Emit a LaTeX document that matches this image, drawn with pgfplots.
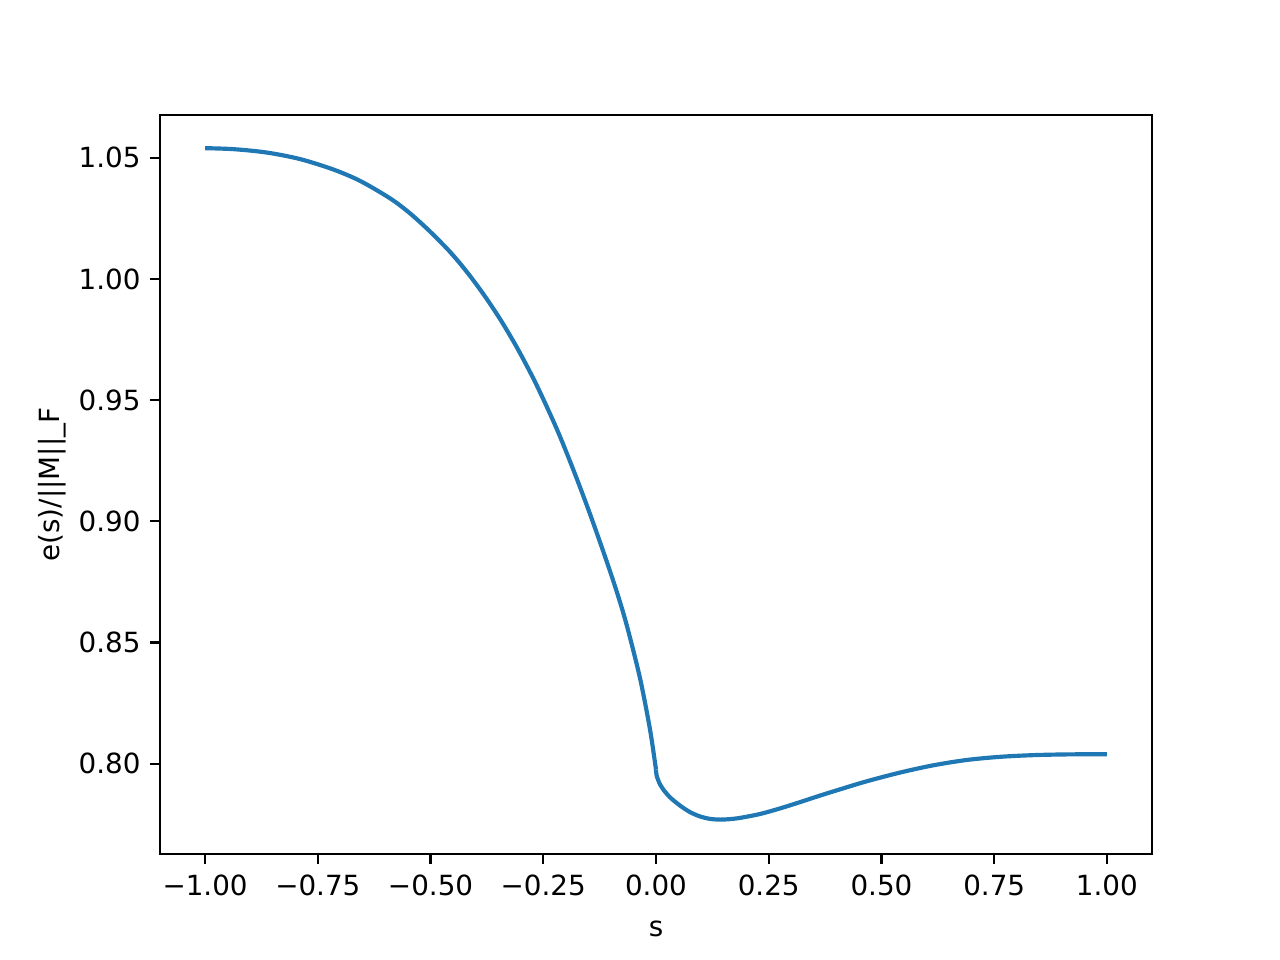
\documentclass[border=0pt]{standalone}
\usepackage{fontspec}
\setmainfont{DejaVu Sans}
\usepackage{pgfplots}
\pgfplotsset{compat=1.18}
\definecolor{mplblue}{HTML}{1F77B4}
\begin{document}
\begin{tikzpicture}
\useasboundingbox (-57.6pt,-38.16pt) rectangle (403.2pt,307.44pt);
\begin{axis}[
  at={(0pt,0pt)}, anchor=south west,
  scale only axis,
  width=357.12pt, height=266.04pt,
  xmin=-1.1, xmax=1.1,
  ymin=0.7627, ymax=1.0677,
  axis line style={line width=0.8pt},
  every tick/.style={black, line width=0.8pt},
  tick align=outside,
  major tick length=3.5pt,
  xtick={-1,-0.75,-0.5,-0.25,0,0.25,0.5,0.75,1},
  xticklabels={−1.00,−0.75,−0.50,−0.25,0.00,0.25,0.50,0.75,1.00},
  ytick={0.80,0.85,0.90,0.95,1.00,1.05},
  yticklabels={0.80,0.85,0.90,0.95,1.00,1.05},
  xtick pos=bottom, ytick pos=left,
  ticklabel style={font=\fontsize{10}{12}\selectfont},
  xticklabel style={yshift=-0.5pt},
  xlabel={s}, ylabel={e(s)/||M||\_F},
  label style={font=\fontsize{10}{12}\selectfont},
  xlabel style={yshift=-2pt},
  ylabel style={yshift=-2.5pt},
  clip=false,
]
\addplot[mplblue, line width=1.5pt, smooth] coordinates {
(-1.0,1.0540) (-0.9372,1.0536) (-0.8632,1.0522) (-0.7894,1.0495) (-0.7155,1.0452)
(-0.6563,1.0405) (-0.5898,1.0333) (-0.5455,1.0271) (-0.5011,1.0196)
(-0.4568,1.0112) (-0.4197,1.0030) (-0.3829,0.9938) (-0.3459,0.9835) (-0.3089,0.9719)
(-0.2721,0.9590) (-0.2417,0.9471) (-0.2129,0.9350) (-0.1796,0.9195) (-0.1463,0.9030)
(-0.1131,0.8855) (-0.0876,0.8713) (-0.0650,0.8572) (-0.0355,0.8353) (-0.0133,0.8141)
(0.0,0.7975)
};
\addplot[mplblue, line width=1.5pt, smooth] coordinates {
(0.0,0.7975) (0.0015,0.7950) (0.0089,0.7914) (0.0162,0.7893) (0.031,0.7861)
(0.0532,0.7827) (0.0754,0.7800) (0.0976,0.7782) (0.1197,0.7772) (0.1419,0.7769)
(0.1641,0.7771) (0.1863,0.7776) (0.2306,0.7792)
(0.2749,0.7815) (0.3193,0.7841) (0.3636,0.7868) (0.4154,0.7898) (0.4672,0.7927)
(0.5410,0.7963) (0.6149,0.7993) (0.6889,0.8015) (0.7627,0.8028) (0.8366,0.8035)
(0.9106,0.8038) (1.0,0.8039)
};
\end{axis}
\end{tikzpicture}
\end{document}
